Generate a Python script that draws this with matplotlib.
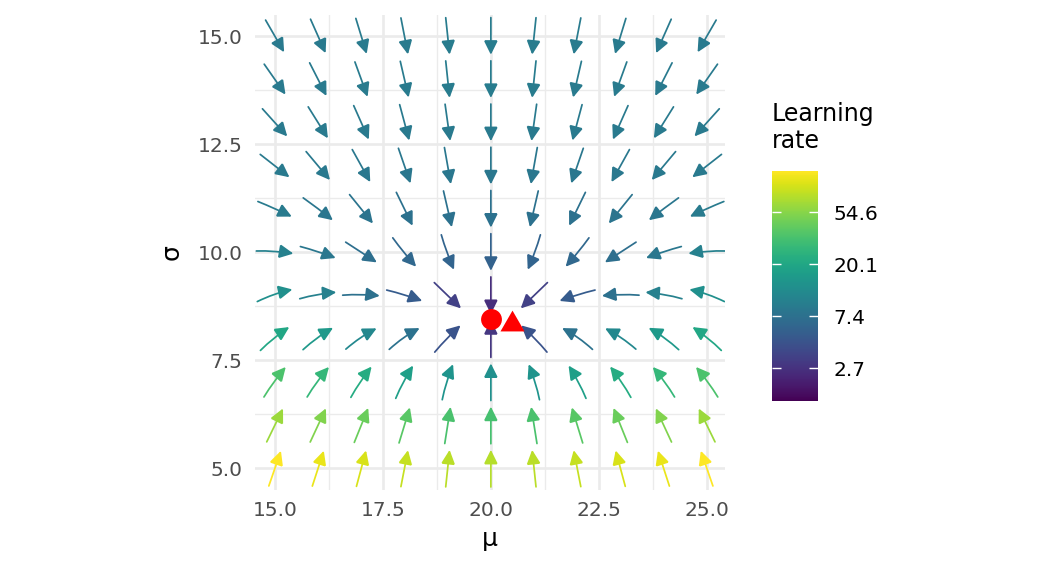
import numpy as np
import matplotlib
matplotlib.use("Agg")
from matplotlib import pyplot as plt
from matplotlib.colors import LogNorm
from matplotlib.cm import ScalarMappable
from matplotlib.patches import FancyArrowPatch, ArrowStyle

# grid of the vector field
mu_grid = [15, 16, 17, 18, 19, 20, 21, 22, 23, 24, 25]
sigma_grid = [15, 14, 13, 12, 11, 10, 9, 8, 7, 6, 5]

# arrow direction (degrees, counter-clockwise from +mu), one row per sigma
angle_deg = [
    [-60, -66, -73, -79, -84, -90, -96, -101, -107, -114, -120],
    [-55, -63, -70, -77, -84, -90, -96, -103, -110, -117, -125],
    [-48, -58, -66, -75, -82, -90, -98, -105, -114, -122, -132],
    [-38, -50, -61, -71, -80, -90, -100, -109, -119, -130, -142],
    [-24, -37, -51, -64, -77, -90, -103, -116, -129, -143, -156],
    [-4, -18, -33, -51, -70, -90, -110, -129, -147, -162, -176],
    [19, 10, -1, -17, -44, -90, -136, -163, -179, 170, 161],
    [39, 36, 34, 35, 46, 90, 134, 145, 146, 144, 141],
    [54, 54, 56, 62, 73, 90, 107, 118, 124, 126, 126],
    [64, 65, 68, 73, 81, 90, 99, 107, 112, 115, 116],
    [71, 72, 75, 79, 84, 90, 96, 101, 105, 108, 109],
]

# how much each arrow turns from tail to head (degrees, + = counter-clockwise)
turn_deg = [
    [0] * 11,
    [0] * 11,
    [0] * 11,
    [0] * 11,
    [-4, -3, 0, 0, 0, 0, 0, 0, 0, 3, 4],
    [-11, -6, 0, 6, 8, 0, -8, -6, 0, 6, 11],
    [-14, -12, -11, -7, 0, 0, 0, 7, 11, 12, 14],
    [-12, -13, -14, -15, -8, 0, 8, 15, 14, 13, 12],
    [-9, -10, -10, -11, -11, 0, 11, 11, 10, 10, 9],
    [0] * 11,
    [0] * 11,
]

# learning rate shown by the arrow colour
learning_rate = [
    [8.8, 8.9, 9.0, 9.0, 9.1, 9.1, 9.1, 9.0, 9.0, 8.9, 8.8],
    [8.9, 8.9, 9.0, 9.0, 9.1, 9.1, 9.1, 9.0, 9.0, 8.9, 8.9],
    [8.9, 8.8, 8.8, 8.8, 8.9, 8.9, 8.9, 8.8, 8.8, 8.8, 8.9],
    [8.9, 8.6, 8.5, 8.4, 8.4, 8.4, 8.4, 8.4, 8.5, 8.6, 8.9],
    [9.0, 8.3, 7.9, 7.6, 7.5, 7.5, 7.5, 7.6, 7.9, 8.3, 9.0],
    [10.0, 8.4, 7.2, 6.3, 5.9, 5.7, 5.9, 6.3, 7.2, 8.4, 10.0],
    [13.1, 10.0, 7.4, 5.2, 3.4, 2.6, 3.4, 5.2, 7.4, 10.0, 13.1],
    [20.1, 15.5, 11.4, 7.7, 4.5, 2.9, 4.5, 7.7, 11.4, 15.5, 20.1],
    [34.4, 27.7, 22.0, 17.4, 14.2, 13.1, 14.2, 17.4, 22.0, 27.7, 34.4],
    [62.4, 52.5, 44.4, 38.1, 34.2, 32.8, 34.2, 38.1, 44.4, 52.5, 62.4],
    [121, 105, 92, 82, 76, 74, 76, 82, 92, 105, 121],
]
rate_range = (1.45, 121)
rate_ticks = [2.718, 7.389, 20.09, 54.6]
rate_ticklabels = ['2.7', '7.4', '20.1', '54.6']

# estimate (circle) and second point (triangle)
circle_mu, circle_sigma = 20.0, 8.45
triangle_mu, triangle_sigma = 20.5, 8.35

arrow_len = 0.86
tick_grey = '#4d4d4d'
plt.rcParams['font.family'] = ['DejaVu Sans']

fig = plt.figure(figsize=(10.56, 5.76), dpi=100)
ax = fig.add_axes([255 / 1056, 1 - 490 / 576, 470 / 1056, 475 / 576])
ax.set_xlim(14.54, 25.42)
ax.set_ylim(4.5, 15.49)

# theme_minimal look
for side in ax.spines.values():
    side.set_visible(False)
ax.set_xticks([15, 17.5, 20, 22.5, 25])
ax.set_yticks([5, 7.5, 10, 12.5, 15])
ax.set_xticks([16.25, 18.75, 21.25, 23.75], minor=True)
ax.set_yticks([6.25, 8.75, 11.25, 13.75], minor=True)
ax.grid(which='major', color='#ebebeb', lw=1.9)
ax.grid(which='minor', color='#ebebeb', lw=1.0)
ax.set_axisbelow(True)
ax.tick_params(which='both', length=0, labelsize=14.5, labelcolor=tick_grey)
ax.tick_params(axis='x', pad=8)
ax.tick_params(axis='y', pad=9)
ax.xaxis.set_major_formatter(matplotlib.ticker.FormatStrFormatter('%.1f'))
ax.yaxis.set_major_formatter(matplotlib.ticker.FormatStrFormatter('%.1f'))
ax.set_xlabel('μ', fontsize=18, labelpad=5)
ax.set_ylabel('σ', fontsize=18, labelpad=10)

norm = LogNorm(vmin=rate_range[0], vmax=rate_range[1])
cmap = plt.get_cmap('viridis')
head = ArrowStyle('-|>', head_length=8.5, head_width=4.2)

for i, s in enumerate(sigma_grid):
    for j, m in enumerate(mu_grid):
        a = np.deg2rad(angle_deg[i][j])
        dx = 0.5 * arrow_len * np.cos(a)
        dy = 0.5 * arrow_len * np.sin(a)
        rad = 0.5 * np.tan(np.deg2rad(turn_deg[i][j]) / 2)
        arr = FancyArrowPatch((m - dx, s - dy), (m + dx, s + dy), arrowstyle=head,
                              connectionstyle='arc3,rad=%.4f' % rad,
                              mutation_scale=1, lw=1.25, color=cmap(norm(learning_rate[i][j])),
                              shrinkA=0, shrinkB=0, joinstyle='miter')
        ax.add_patch(arr)

ax.plot([circle_mu], [circle_sigma], marker='o', ms=15, color='red', mec='none', zorder=5)
tri = [(-1, -0.577), (1, -0.577), (0, 1.155)]
ax.plot([triangle_mu], [triangle_sigma], marker=tri, ms=20, color='red', mec='none', zorder=5)

# colour bar
cax = fig.add_axes([772 / 1056, 1 - 401 / 576, 46 / 1056, 230 / 576])
sm = ScalarMappable(norm=norm, cmap=cmap)
cb = fig.colorbar(sm, cax=cax)
cb.outline.set_visible(False)
cb.minorticks_off()
cb.set_ticks(rate_ticks)
cb.set_ticklabels(rate_ticklabels)
cax.yaxis.set_ticks_position('both')
cax.tick_params(which='major', direction='in', length=6.5, width=1.0, color='white',
                left=True, right=True, labelleft=False, labelright=True,
                labelsize=14.5, labelcolor='black', pad=11)
cax.tick_params(which='minor', length=0)
fig.text(772 / 1056, 1 - 102 / 576, 'Learning\nrate', fontsize=17, ha='left', va='top',
         linespacing=1.15)

fig.savefig('out.png', dpi=100)
